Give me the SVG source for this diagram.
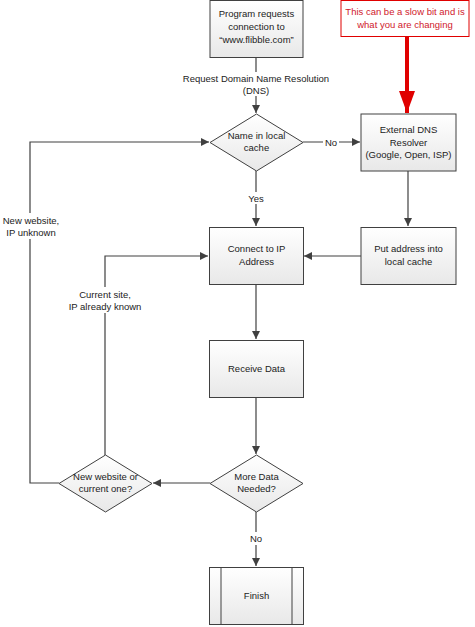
<svg xmlns="http://www.w3.org/2000/svg" width="475" height="627" viewBox="0 0 475 627">
<style>
.n{stroke:#404040;stroke-width:1;fill:url(#g)}
.t{font-family:"Liberation Sans",Arial,sans-serif;font-size:9.5px;fill:#222;text-anchor:middle}
.c{stroke:#404040;stroke-width:1.2;fill:none}
.lb{font-family:"Liberation Sans",Arial,sans-serif;font-size:9.5px;fill:#222;text-anchor:middle}
</style>
<defs>
<linearGradient id="g" x1="0" y1="0" x2="0" y2="1"><stop offset="0" stop-color="#ffffff"/><stop offset="1" stop-color="#e8e8e8"/></linearGradient>
<marker id="a" viewBox="0 0 10 10" refX="10" refY="5" markerWidth="8" markerHeight="8" markerUnits="userSpaceOnUse" orient="auto"><path d="M0,0L10,5L0,10z" fill="#404040"/></marker>
<marker id="r" viewBox="0 0 10 10" refX="10" refY="5" markerWidth="22" markerHeight="16" markerUnits="userSpaceOnUse" orient="auto" preserveAspectRatio="none"><path d="M0,0L10,5L0,10z" fill="#e00000"/></marker>
</defs>
<g id="connectors">
<path class="c" d="M256,58V113" marker-end="url(#a)"/>
<rect x="180" y="72" width="152" height="24" fill="#fff"/>
<text class="lb" x="256" y="82">Request Domain Name Resolution</text>
<text class="lb" x="256" y="94">(DNS)</text>
<path class="c" d="M303,142H360" marker-end="url(#a)"/>
<rect x="323" y="136" width="16" height="12" fill="#fff"/>
<text class="lb" x="331" y="145.5">No</text>
<path class="c" d="M256,171V226" marker-end="url(#a)"/>
<rect x="245" y="192" width="22" height="12" fill="#fff"/>
<text class="lb" x="256" y="201.5">Yes</text>
<path class="c" d="M408,171V226" marker-end="url(#a)"/>
<path class="c" d="M361,256H304" marker-end="url(#a)"/>
<path class="c" d="M256,284V339" marker-end="url(#a)"/>
<path class="c" d="M256,398V454" marker-end="url(#a)"/>
<path class="c" d="M210,483H153" marker-end="url(#a)"/>
<path class="c" d="M256,512V566" marker-end="url(#a)"/>
<rect x="247" y="532" width="18" height="13" fill="#fff"/>
<text class="lb" x="256" y="542">No</text>
<path class="c" d="M59,483H30V142H209" marker-end="url(#a)"/>
<rect x="0" y="213" width="62" height="26" fill="#fff"/>
<text class="lb" x="31" y="224">New website,</text>
<text class="lb" x="31" y="236">IP unknown</text>
<path class="c" d="M105,455V256H208" marker-end="url(#a)"/>
<rect x="66" y="287" width="80" height="26" fill="#fff"/>
<text class="lb" x="105" y="298">Current site,</text>
<text class="lb" x="105" y="310">IP already known</text>
<path d="M407,37V113" stroke="#e00000" stroke-width="4" fill="none" marker-end="url(#r)"/>
</g>
<g id="start">
<rect class="n" x="210" y="0.5" width="93" height="57"/>
<text class="t" x="256.5" y="17">Program requests</text>
<text class="t" x="256.5" y="30">connection to</text>
<text class="t" x="256.5" y="43">“www.flibble.com”</text>
</g>
<g id="note">
<rect x="341" y="0.5" width="128" height="36" fill="#fff" stroke="#e00000" stroke-width="1"/>
<text class="t" x="405" y="15" style="fill:#d0202c">This can be a slow bit and is</text>
<text class="t" x="405" y="28" style="fill:#d0202c">what you are changing</text>
</g>
<g id="cache">
<path class="n" d="M256.5,114L303,142.5L256.5,171L210,142.5Z"/>
<text class="t" x="256.5" y="139">Name in local</text>
<text class="t" x="256.5" y="151">cache</text>
</g>
<g id="dns">
<rect class="n" x="361" y="114" width="95" height="57"/>
<text class="t" x="408.5" y="133">External DNS</text>
<text class="t" x="408.5" y="145.5">Resolver</text>
<text class="t" x="408.5" y="158">(Google, Open, ISP)</text>
</g>
<g id="connect">
<rect class="n" x="209.5" y="227.5" width="94" height="57"/>
<text class="t" x="256.5" y="252">Connect to IP</text>
<text class="t" x="256.5" y="265">Address</text>
</g>
<g id="put">
<rect class="n" x="361" y="227.5" width="95" height="57"/>
<text class="t" x="408.5" y="252">Put address into</text>
<text class="t" x="408.5" y="265">local cache</text>
</g>
<g id="receive">
<rect class="n" x="209.5" y="340.5" width="94" height="57"/>
<text class="t" x="256.5" y="372">Receive Data</text>
</g>
<g id="more">
<path class="n" d="M256.5,455L303,483.5L256.5,512L210,483.5Z"/>
<text class="t" x="256.5" y="480">More Data</text>
<text class="t" x="256.5" y="492">Needed?</text>
</g>
<g id="which">
<path class="n" d="M105.5,455L152,483.5L105.5,512L59,483.5Z"/>
<text class="t" x="105.5" y="480">New website or</text>
<text class="t" x="105.5" y="492">current one?</text>
</g>
<g id="finish">
<rect class="n" x="209.5" y="567.5" width="94" height="57"/>
<path d="M221,567.5V624.5M292,567.5V624.5" stroke="#404040" stroke-width="1"/>
<text class="t" x="256.5" y="599">Finish</text>
</g>
</svg>
